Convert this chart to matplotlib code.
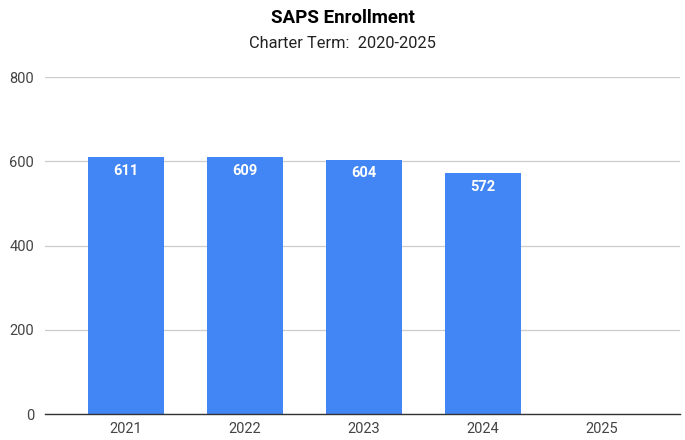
import matplotlib.pyplot as plt

plt.rcParams['font.family'] = ['Roboto', 'DejaVu Sans']

years = ['2021', '2022', '2023', '2024', '2025']
enrollment = [611, 609, 604, 572, None]
yticks = [0, 200, 400, 600, 800]

fig = plt.figure(figsize=(6.85, 4.4), dpi=100)
ax = fig.add_axes([45 / 685, 26 / 440, 635 / 685, 337 / 440])

xs = list(range(len(years)))
for x, v in zip(xs, enrollment):
    if v is None:
        continue
    ax.bar(x, v, width=0.64, color='#4285F4', zorder=3)
    ax.text(x, v - 33, str(v), ha='center', va='center', color='white',
            fontsize=10.5, fontweight='bold', zorder=4)

ax.set_xlim(-0.68, 4.66)
ax.set_ylim(0, 800)
ax.set_yticks(yticks)
ax.set_yticklabels([str(t) for t in yticks])
ax.set_xticks(xs)
ax.set_xticklabels(years)
ax.grid(axis='y', color='#cccccc', linewidth=0.9, zorder=0)
ax.tick_params(length=0, colors='#444444', labelsize=10.5)
ax.tick_params(axis='y', pad=8)
ax.tick_params(axis='x', pad=6)
for s in ['top', 'right', 'left']:
    ax.spines[s].set_visible(False)
ax.spines['bottom'].set_color('#333333')
ax.spines['bottom'].set_linewidth(1.0)
ax.spines['bottom'].set_zorder(5)

fig.text(0.5, 1 - 18 / 440, 'SAPS Enrollment', ha='center', va='center',
         fontsize=13.5, fontweight='bold', color='#000000')
fig.text(0.5, 1 - 44 / 440, 'Charter Term:  2020-2025', ha='center', va='center',
         fontsize=11.8, color='#222222')

fig.savefig('out.png', dpi=100)
